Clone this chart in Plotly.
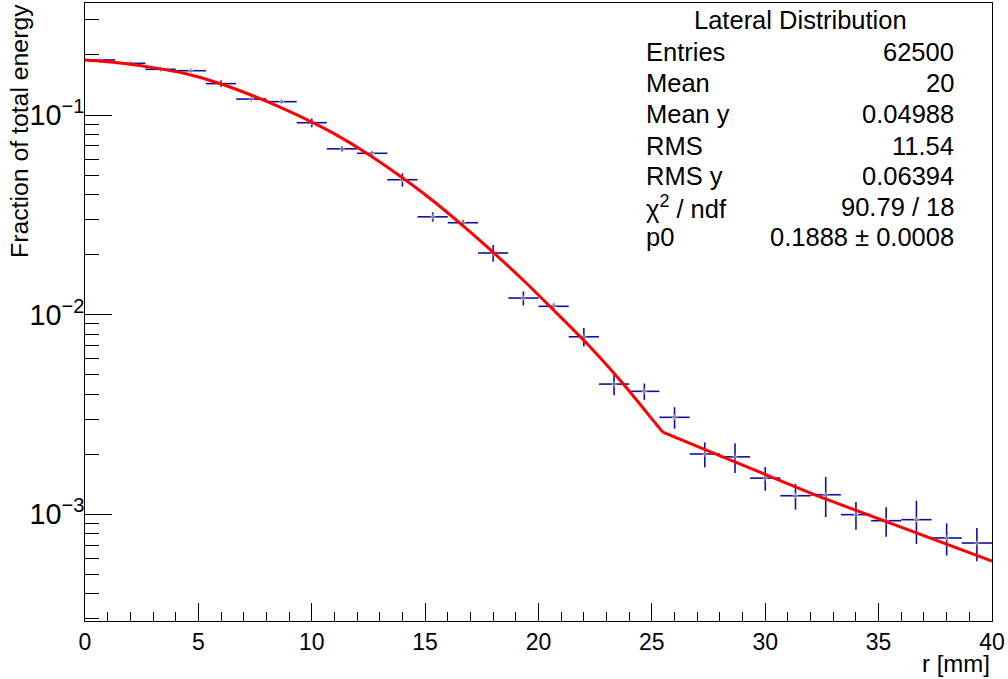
import plotly.graph_objects as go

# ---- data ----
r_centers = [0.667, 2.0, 3.333, 4.667, 6.0, 7.333, 8.667, 10.0, 11.333, 12.667,
             14.0, 15.333, 16.667, 18.0, 19.333, 20.667, 22.0, 23.333, 24.667, 26.0,
             27.333, 28.667, 30.0, 31.333, 32.667, 34.0, 35.333, 36.667, 38.0, 39.333]
bin_half_width = 0.667
energy_frac = [0.1887, 0.1815, 0.1694, 0.1667, 0.1436, 0.1202, 0.1166, 0.0915, 0.0677, 0.0643,
               0.0474, 0.0309, 0.02887, 0.02036, 0.01211, 0.01101, 0.00775, 0.00449, 0.00413, 0.00306,
               0.002005, 0.00194, 0.001518, 0.001239, 0.001253, 0.000996, 0.000929, 0.000940, 0.000761, 0.000718]
energy_err = [0.0020, 0.0020, 0.0025, 0.0020, 0.0055, 0.0020, 0.0020, 0.0047, 0.00207, 0.00148,
              0.00364, 0.00166, 0.00095, 0.00196, 0.00098, 0.00038, 0.00082, 0.00054, 0.00039, 0.00038,
              0.000287, 0.000332, 0.000206, 0.000184, 0.000284, 0.000158, 0.000156, 0.000230, 0.000140, 0.000136]

# fitted curve: smooth core part and straight (exponential) tail
fit_core_r = [0.0, 1.47, 2.94, 4.41, 5.88, 7.35, 8.82, 10.14, 10.95, 12.42, 13.89, 15.36,
              16.83, 17.86, 19.33, 20.80, 22.27, 23.74, 25.21, 25.48]
fit_core_y = [0.1888, 0.1828, 0.1732, 0.1613, 0.1447, 0.1256, 0.1067, 0.0906, 0.0811, 0.0644, 0.0495, 0.0371,
              0.0269, 0.02122, 0.01487, 0.01018, 0.00690, 0.00449, 0.00281, 0.00258]
fit_tail_r = [25.48, 32.27, 40.0]
fit_tail_y = [0.00258, 0.00124, 0.000583]

stats_labels = ["Entries", "Mean", "Mean y", "RMS", "RMS y", "χ<sup>2</sup> / ndf", "p0"]
stats_values = ["62500", "20", "0.04988", "11.54", "0.06394", "90.79 / 18", "0.1888 ± 0.0008"]
stats_title = "Lateral Distribution"

FONT = "Liberation Sans, Arial, Helvetica, sans-serif"

fig = go.Figure()
fig.add_trace(go.Scatter(
    x=r_centers, y=energy_frac, mode="markers",
    marker=dict(symbol="cross-thin", size=4, line=dict(width=1, color="#a0a0a0"), color="#a0a0a0"),
    error_x=dict(type="constant", value=bin_half_width, width=0, thickness=1.6, color="#1010a0"),
    error_y=dict(type="data", array=energy_err, width=0, thickness=1.6, color="#1010a0"),
    showlegend=False, hoverinfo="skip"))
fig.add_trace(go.Scatter(
    x=fit_core_r, y=fit_core_y, mode="lines",
    line=dict(color="#ff0000", width=3, shape="spline", smoothing=0.8),
    showlegend=False, hoverinfo="skip"))
fig.add_trace(go.Scatter(
    x=fit_tail_r, y=fit_tail_y, mode="lines",
    line=dict(color="#ff0000", width=3),
    showlegend=False, hoverinfo="skip"))

W, H = 1008, 679
L, R, T, B = 85, 992, 3, 621
def px2paper(px, py):
    return (px - L) / (R - L), (B - py) / (B - T)

STAT_SIZE = 25.5
ann = []
tx, ty = px2paper(800, 20)
ann.append(dict(text=stats_title, x=tx, y=ty, xref="paper", yref="paper",
                xanchor="center", yanchor="middle", showarrow=False,
                font=dict(size=STAT_SIZE, color="black", family=FONT)))
row_y = [52, 83, 114, 146, 176, 207, 237]
for lab, val, py in zip(stats_labels, stats_values, row_y):
    lx, ly = px2paper(644, py)
    rx, _ = px2paper(956, py)
    ann.append(dict(text=lab, x=lx, y=ly, xref="paper", yref="paper",
                    xanchor="left", yanchor="middle", showarrow=False,
                    font=dict(size=STAT_SIZE, color="black", family=FONT)))
    ann.append(dict(text=val, x=rx, y=ly, xref="paper", yref="paper",
                    xanchor="right", yanchor="middle", showarrow=False,
                    font=dict(size=STAT_SIZE, color="black", family=FONT)))
# axis titles
ax_x, ax_y = px2paper(992, 648)
ann.append(dict(text="r [mm]", x=ax_x, y=ax_y, xref="paper", yref="paper",
                xanchor="right", yanchor="top", showarrow=False,
                font=dict(size=24, color="black", family=FONT)))
ay_x, ay_y = px2paper(19, 2)
ann.append(dict(text="Fraction of total energy", x=ay_x, y=ay_y, xref="paper", yref="paper",
                xanchor="center", yanchor="top", textangle=-90, showarrow=False,
                font=dict(size=24.8, color="black", family=FONT)))

fig.update_layout(
    width=W, height=H,
    margin=dict(l=L, r=W - R, t=T, b=H - B),
    paper_bgcolor="white", plot_bgcolor="white",
    annotations=ann,
    xaxis=dict(range=[0, 40], showgrid=False, zeroline=False,
               showline=True, linecolor="black", linewidth=1, mirror=True,
               ticks="inside", ticklen=18, tickwidth=1, tickcolor="black",
               dtick=5, tick0=0,
               minor=dict(ticks="inside", ticklen=9, dtick=1, tickcolor="black", showgrid=False),
               tickfont=dict(size=23, color="black", family=FONT)),
    yaxis=dict(type="log", range=[-3.5344, -0.439], showgrid=False, zeroline=False,
               showline=True, linecolor="black", linewidth=1, mirror=True,
               ticks="inside", ticklen=27, tickwidth=1, tickcolor="black",
               dtick=1, exponentformat="power", ticklabelstandoff=-5,
               minor=dict(ticks="inside", ticklen=14, dtick="D1", tickcolor="black", showgrid=False),
               tickfont=dict(size=23, color="black", family=FONT)),
)
fig.write_html("out.html")
